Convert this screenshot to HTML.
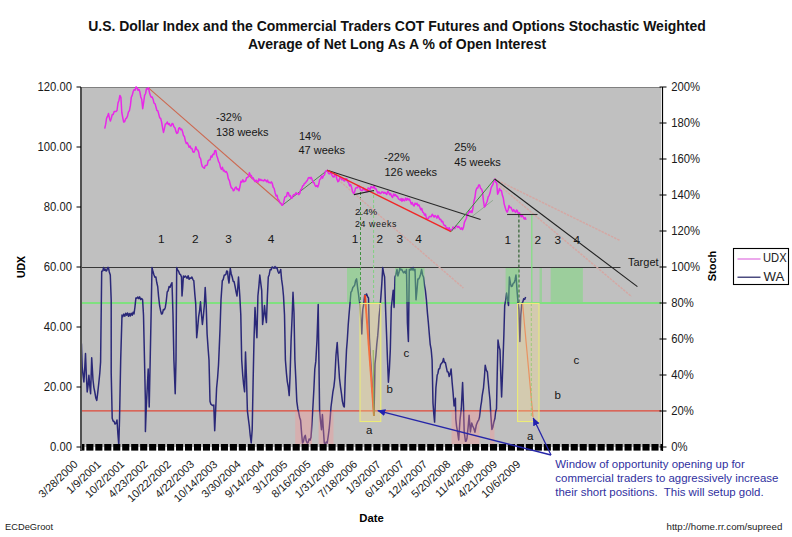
<!DOCTYPE html><html><head><meta charset="utf-8"><style>html,body{margin:0;padding:0;background:#fff;overflow:hidden}svg{display:block}text{font-family:"Liberation Sans",sans-serif}</style></head><body>
<svg width="792" height="537" viewBox="0 0 792 537">
<rect x="0" y="0" width="792" height="537" fill="#fff"/>
<text x="397" y="31" text-anchor="middle" font-size="13.97" font-weight="bold" fill="#111">U.S. Dollar Index and the Commercial Traders COT Futures and Options Stochastic Weighted</text>
<text x="397" y="49" text-anchor="middle" font-size="14" font-weight="bold" fill="#111">Average of Net Long As A % of Open Interest</text>
<rect x="81" y="87" width="580" height="360" fill="#c0c0c0"/>
<line x1="81" y1="87.5" x2="661" y2="87.5" stroke="#808080" stroke-width="1"/>
<line x1="81" y1="267.5" x2="620.5" y2="267.5" stroke="#383838" stroke-width="1"/>
<line x1="81" y1="303" x2="661" y2="303" stroke="#80e080" stroke-width="2"/>
<line x1="81" y1="410.8" x2="661" y2="410.8" stroke="#e04838" stroke-width="1.3"/>
<line x1="360.5" y1="192" x2="360.5" y2="303" stroke="#409040" stroke-width="1" stroke-dasharray="3,2"/>
<line x1="373.6" y1="190" x2="373.6" y2="303" stroke="#80d080" stroke-width="1" stroke-dasharray="3,2"/>
<line x1="518.9" y1="214.5" x2="518.9" y2="303" stroke="#306030" stroke-width="1.2" stroke-dasharray="3,2"/>
<line x1="531.8" y1="214.5" x2="531.8" y2="303" stroke="#80e080" stroke-width="1.2"/>
<line x1="148.4" y1="87.8" x2="282.7" y2="205" stroke="#cc6850" stroke-width="1.1"/>
<line x1="282.7" y1="205" x2="327.3" y2="170.3" stroke="#508050" stroke-width="1"/>
<line x1="327.3" y1="170.3" x2="463.4" y2="288" stroke="#d4a8a4" stroke-width="1.5" stroke-dasharray="2.5,1"/>
<line x1="494.7" y1="179" x2="620" y2="240.5" stroke="#d4a8a4" stroke-width="1.5" stroke-dasharray="2.5,1"/>
<line x1="494.7" y1="181.5" x2="631.5" y2="296.5" stroke="#d4a8a4" stroke-width="1.5" stroke-dasharray="2.5,1"/>
<line x1="472" y1="216.5" x2="492.9" y2="200.3" stroke="#90a890" stroke-width="1"/>
<polyline points="104.7,128.6 105.7,124.2 106.6,118.2 107.5,116.4 108.5,113.4 109.5,118.4 110.4,121.0 111.3,118.3 112.3,114.4 113.2,114.5 114.2,111.6 115.1,111.5 116.0,111.5 117.0,110.5 118.0,103.0 119.0,100.2 119.9,95.4 120.9,97.3 121.8,112.5 122.8,117.8 123.7,122.0 124.6,121.7 125.6,118.9 126.5,118.2 127.5,116.2 128.4,112.2 129.4,110.6 130.4,105.4 131.3,97.3 132.2,95.4 133.2,91.5 134.1,89.7 135.1,90.2 136.0,86.9 137.0,87.8 137.9,90.2 138.9,89.4 139.8,91.6 140.8,97.0 141.7,99.2 142.7,108.7 143.6,102.6 144.6,95.4 145.6,93.5 146.5,88.7 147.4,89.1 148.4,87.8 149.4,92.2 150.3,95.4 151.2,97.3 152.2,97.1 153.1,99.2 154.0,103.1 155.0,103.6 155.9,106.8 156.9,110.5 157.8,110.7 158.8,114.4 159.7,117.8 160.7,118.4 161.6,122.0 162.6,127.8 163.5,132.4 164.4,128.7 165.4,123.9 166.4,123.7 167.3,122.0 168.3,124.5 169.2,123.6 170.2,125.8 171.1,126.0 172.1,123.4 173.0,123.9 173.9,126.8 174.9,127.7 175.9,131.4 176.8,133.4 177.8,132.9 178.7,128.3 179.7,127.7 180.6,129.7 181.6,129.1 182.5,131.5 183.5,135.7 184.4,136.4 185.4,141.0 186.3,143.6 187.3,142.7 188.2,144.8 189.1,147.3 190.1,146.1 191.1,148.6 192.0,148.6 192.9,151.8 193.9,152.3 194.9,150.2 195.8,146.7 196.8,149.6 197.7,149.9 198.7,152.3 199.6,157.3 200.6,158.6 201.5,163.7 202.4,166.7 203.4,167.5 204.4,168.3 205.3,165.4 206.3,165.6 207.2,165.0 208.2,160.7 209.1,160.0 210.1,159.7 211.0,156.1 211.9,157.1 212.9,154.2 213.9,154.5 214.8,150.7 215.8,150.5 216.7,155.5 217.6,158.0 218.6,161.7 219.5,163.1 220.5,167.5 221.4,169.4 222.4,167.3 223.4,171.0 224.3,170.3 225.3,172.2 226.3,171.5 227.3,173.5 228.3,178.6 229.4,180.7 230.4,185.1 231.4,188.0 232.3,188.2 233.3,190.8 234.2,190.1 235.2,187.7 236.1,187.0 237.1,189.6 238.0,188.9 239.0,190.8 239.9,186.8 240.9,181.3 241.8,182.2 242.8,179.8 243.8,181.9 244.7,181.3 245.6,181.0 246.6,177.7 247.5,177.5 248.4,176.6 249.4,172.7 250.4,175.5 251.3,175.6 252.3,178.6 253.2,177.9 254.2,180.3 255.1,181.6 256.1,180.1 257.0,181.3 257.9,182.3 258.9,178.8 259.9,180.5 260.8,179.4 261.8,180.5 262.7,180.3 263.7,181.0 264.6,179.6 265.6,180.3 266.6,181.8 267.5,180.1 268.4,182.5 269.4,182.2 270.3,183.0 271.3,181.9 272.2,183.2 273.2,187.3 274.1,188.4 275.1,192.7 276.1,196.1 277.0,195.2 277.9,199.4 278.9,200.2 279.9,202.8 280.8,203.1 281.8,205.3 282.7,205.0 283.6,202.7 284.6,197.8 285.5,196.5 286.5,196.6 287.4,192.5 288.4,192.7 289.3,196.0 290.3,195.6 291.2,198.4 292.1,198.1 293.1,195.3 294.0,194.6 295.0,194.8 296.0,192.7 296.9,193.9 297.9,193.4 298.8,194.6 299.8,193.2 300.7,189.6 301.7,189.0 302.6,186.0 303.6,185.4 304.5,183.2 305.4,183.1 306.4,181.3 307.3,180.6 308.3,177.9 309.2,177.5 310.2,178.6 311.1,177.3 312.1,179.4 313.0,182.5 314.0,182.6 314.9,185.1 315.9,186.5 316.8,185.5 317.8,187.0 318.8,184.1 319.7,179.4 320.6,179.1 321.6,176.1 322.6,178.1 323.5,175.6 324.4,175.0 325.4,171.4 326.3,170.8 327.3,170.3 328.2,172.7 329.1,173.9 330.1,173.5 331.0,172.0 332.0,175.3 333.0,176.8 334.0,177.0 335.0,174.2 336.0,175.0 336.9,179.0 337.9,181.7 338.9,180.9 339.8,177.6 340.8,177.8 341.8,179.8 342.7,179.0 343.7,180.5 344.7,181.0 345.7,178.8 346.7,178.7 347.6,181.8 348.6,182.7 349.6,185.9 350.6,184.5 351.6,187.5 352.6,191.7 353.5,193.4 354.5,192.2 355.4,188.6 356.4,187.5 357.4,187.9 358.4,185.6 359.4,186.6 360.4,189.6 361.3,190.5 362.4,190.6 363.5,188.0 364.4,190.0 365.3,189.5 366.2,191.4 367.2,191.8 368.1,187.9 369.1,188.5 370.1,189.6 371.1,186.5 372.1,187.5 373.1,187.9 374.0,185.6 375.0,188.8 376.0,188.7 377.0,191.4 378.0,193.1 378.9,191.9 379.9,193.4 380.9,193.4 381.8,192.0 382.8,192.0 383.8,193.3 384.8,192.2 385.8,193.4 386.8,194.4 387.7,191.2 388.7,192.5 389.7,194.7 390.6,193.5 391.6,196.3 392.6,197.4 393.6,193.9 394.5,195.8 395.5,194.5 396.5,196.4 397.4,196.2 398.4,198.8 399.4,199.3 400.3,200.2 401.1,198.5 402.0,201.4 402.8,198.7 403.7,200.3 404.6,200.8 405.6,198.1 406.6,200.3 407.5,198.4 408.4,199.9 409.4,199.1 410.3,201.3 411.3,204.1 412.2,202.5 413.2,205.1 414.1,205.9 415.1,203.1 416.1,204.4 417.0,203.2 417.9,205.8 418.9,204.9 419.8,207.0 420.8,209.8 421.7,208.3 422.7,212.2 423.6,212.7 424.6,215.1 425.5,214.0 426.4,218.3 427.4,218.4 428.4,218.4 429.3,216.5 430.3,216.5 431.2,216.8 432.2,214.3 433.1,215.5 434.1,217.2 435.0,215.5 436.0,216.5 436.9,218.2 437.9,215.5 438.8,217.4 439.8,219.6 440.7,219.3 441.6,221.7 442.6,221.3 443.5,224.0 444.4,225.6 445.4,225.4 446.4,228.4 447.3,227.8 448.2,229.5 449.2,227.7 450.2,230.8 451.1,229.7 452.1,230.0 453.0,227.0 454.0,227.8 454.9,228.6 455.9,225.9 456.8,226.0 457.8,227.4 458.7,226.4 459.7,227.8 460.6,229.2 461.6,227.9 462.5,229.7 463.5,227.3 464.4,222.4 465.4,220.2 466.3,218.5 467.3,214.0 468.2,214.0 469.2,210.8 470.1,212.4 471.1,210.9 472.0,212.7 472.9,208.5 473.9,201.3 474.9,197.8 475.8,190.9 476.8,188.0 477.7,188.1 478.7,185.0 479.6,185.1 480.6,188.4 481.5,189.1 482.5,191.8 483.4,200.4 484.4,207.0 485.4,205.8 486.3,203.2 487.2,201.2 488.2,196.8 489.1,195.6 490.0,193.1 491.0,188.3 491.9,186.1 492.9,184.5 493.9,180.4 494.7,179.0 495.7,182.1 496.7,183.0 497.6,194.2 498.6,192.2 499.5,188.5 500.4,190.5 501.4,190.4 502.4,195.3 503.3,198.0 504.2,204.1 505.2,207.5 506.1,210.4 507.1,212.2 508.1,210.0 509.0,205.6 509.9,207.6 510.9,207.3 511.8,209.4 512.8,211.4 513.7,209.6 514.7,211.3 515.6,212.4 516.6,210.0 517.5,211.3 518.5,214.0 519.4,212.8 520.4,215.0 521.3,216.8 522.3,215.3 523.2,217.0 524.2,219.0 525.1,217.6 526.1,219.8" fill="none" stroke="#e828e8" stroke-width="1.5" stroke-linejoin="round"/>
<line x1="327.3" y1="170.3" x2="480.6" y2="219.5" stroke="#282828" stroke-width="1.1"/>
<line x1="327.3" y1="170.3" x2="451.1" y2="231.6" stroke="#f02828" stroke-width="1.5"/>
<line x1="353.9" y1="194.6" x2="374" y2="190.5" stroke="#202020" stroke-width="1.2"/>
<line x1="451.1" y1="231.6" x2="494.7" y2="179" stroke="#3c8c3c" stroke-width="1"/>
<line x1="494.7" y1="179" x2="637.4" y2="286.6" stroke="#202020" stroke-width="1.1"/>
<line x1="507.1" y1="214.5" x2="537.5" y2="214.5" stroke="#303030" stroke-width="1.1"/>
<polyline points="81.4,343.5 82.2,367.0 83.1,375.6 83.9,382.0 84.7,369.0 85.5,353.5 86.3,373.9 87.2,392.0 88.1,385.4 88.9,375.3 89.8,385.9 90.6,393.7 91.7,357.7 93.0,380.0 93.9,387.6 94.8,392.0 95.8,397.9 96.8,400.4 97.8,392.1 98.9,382.0 99.8,373.2 100.6,361.9 101.7,271.3 102.7,271.1 103.6,267.5 104.4,270.3 105.2,269.1 106.0,271.0 106.8,270.5 107.6,267.6 108.4,267.5 109.3,271.9 110.3,275.0 111.2,300.0 111.2,372.8 112.2,418.3 113.1,421.0 114.1,421.5 115.0,424.0 116.0,423.4 117.0,420.0 117.9,434.0 118.8,445.0 119.5,420.0 120.7,359.5 122.0,315.0 122.9,316.6 123.8,314.1 124.8,316.2 125.7,313.3 126.6,315.3 127.5,312.9 128.5,316.2 129.4,313.6 130.3,316.0 131.2,313.2 132.2,315.3 133.1,312.3 134.0,314.0 134.9,307.5 135.9,297.9 136.9,298.2 137.8,297.0 138.8,298.6 139.7,296.9 140.7,299.6 141.6,298.5 142.6,299.8 143.5,315.0 144.5,360.0 145.4,401.3 145.4,431.6 146.3,407.0 147.2,388.9 148.2,369.0 149.2,407.0 150.2,359.5 151.1,314.9 152.0,267.5 153.0,271.8 154.0,275.0 154.9,277.2 155.9,277.0 156.8,282.8 157.7,286.5 158.6,296.6 159.6,305.5 160.6,310.7 161.5,314.0 162.4,313.7 163.4,309.5 164.4,309.7 165.3,307.4 166.2,301.5 167.2,292.0 168.1,290.8 169.1,286.5 170.1,287.3 171.0,284.6 172.0,282.7 173.0,315.0 173.9,360.0 175.2,393.7 176.0,360.0 176.7,267.5 177.6,270.1 178.6,271.3 179.6,274.1 180.5,274.5 181.5,277.0 182.0,296.0 182.7,287.5 183.4,276.0 184.3,277.2 185.3,276.0 186.2,277.0 187.1,278.3 188.1,275.8 189.1,279.3 190.0,278.0 190.9,278.4 191.9,277.0 192.9,279.6 193.8,280.8 194.8,293.9 195.7,303.6 196.7,337.7 197.6,328.6 198.6,316.9 199.6,310.7 200.5,301.7 201.4,313.8 202.4,324.5 203.4,315.6 204.3,305.5 205.2,287.4 206.2,305.5 207.1,334.0 208.1,348.4 209.0,360.0 210.0,401.3 210.9,404.2 211.9,405.0 212.9,405.6 213.8,405.0 214.7,430.7 215.6,411.1 216.6,388.0 217.6,377.8 218.5,365.0 219.2,349.1 220.0,330.0 221.0,300.0 222.3,280.8 223.2,279.5 224.2,275.3 225.1,275.0 225.9,274.4 226.7,270.9 227.5,271.3 228.2,278.3 229.0,283.0 230.3,268.4 231.2,273.7 232.2,277.0 233.2,281.4 234.1,281.6 235.1,286.5 236.1,292.1 237.0,296.0 237.8,287.2 238.5,277.0 239.8,296.0 240.8,315.0 241.7,360.0 242.7,374.7 243.6,384.5 244.6,391.8 245.5,351.9 246.5,378.5 247.4,410.8 248.4,419.2 249.3,426.0 250.2,435.2 251.2,443.0 252.2,429.7 253.1,382.3 254.0,340.0 255.0,307.4 255.9,323.3 256.9,337.7 257.9,296.0 258.9,286.1 259.8,275.0 260.8,283.4 261.7,290.3 262.6,324.5 263.6,315.9 264.5,305.5 265.4,315.0 266.4,322.6 267.4,296.0 268.3,277.0 269.2,274.7 270.2,269.4 271.2,269.7 272.1,267.0 273.1,267.5 274.1,268.3 275.0,266.5 275.9,268.1 276.9,267.5 277.9,271.2 278.8,273.2 279.8,271.9 280.7,269.4 281.6,279.4 282.6,286.5 283.5,296.0 284.5,315.0 285.4,360.0 286.4,372.8 287.3,381.6 288.3,387.2 289.2,395.6 290.1,374.7 291.1,340.0 292.1,317.2 293.0,292.2 294.0,313.0 294.9,360.0 295.8,378.5 296.8,401.3 297.8,408.7 298.7,412.7 299.6,417.2 300.6,420.3 301.6,433.2 302.5,443.0 303.4,441.6 304.4,436.8 305.3,435.4 306.2,440.8 307.2,443.0 308.1,442.6 309.1,439.0 310.1,440.1 311.0,437.3 311.9,423.9 312.9,407.0 313.9,389.0 314.8,369.0 315.8,361.4 317.0,340.0 318.2,304.5 318.9,359.2 319.6,410.8 320.6,421.7 321.5,429.7 322.4,414.5 323.4,430.1 324.3,443.0 325.3,444.0 326.2,442.0 327.2,443.0 328.1,437.0 329.1,429.7 330.1,419.1 331.0,407.0 331.9,400.0 332.9,391.8 333.9,386.6 334.8,378.5 336.0,355.0 337.2,342.5 337.9,354.6 338.6,365.0 339.5,378.5 340.5,386.8 341.4,393.1 342.4,401.3 343.4,405.7 344.3,407.0 345.2,378.5 346.5,350.0 347.3,340.0 348.2,325.3 349.0,315.0 349.9,304.5 350.9,292.2 351.8,291.1 352.8,287.5 353.7,286.5 354.7,285.1 355.6,280.7 356.6,278.9 357.6,287.6 358.5,294.0 359.2,300.1 360.0,304.5 360.9,321.0 361.8,334.0 362.8,309.3 363.8,303.9 364.7,295.0 365.6,295.7 366.6,294.0 367.6,296.8 368.5,298.0 369.4,337.7 370.3,355.1 371.2,368.1 372.2,385.7 373.1,399.8 374.0,416.0" fill="none" stroke="#2a2878" stroke-width="1.5" stroke-linejoin="round"/>
<polyline points="374.0,416.0 375.0,363.8 375.9,355.5 376.8,344.1 377.7,335.9 378.4,327.3 379.1,316.3 380.0,307.9 380.8,297.9 381.8,283.9 382.7,267.5 383.6,272.8 384.6,277.0 385.6,309.3 386.6,335.5 387.5,360.0 388.4,382.3 389.4,369.0 390.3,350.0 391.3,307.4 392.2,299.5 393.2,290.3 394.1,307.4 395.0,277.0 396.0,274.2 397.0,269.4 397.9,276.0 398.9,272.8 399.8,268.4 400.8,269.9 401.7,269.4 402.7,271.3 403.6,272.8 404.6,271.3 405.5,273.2 406.5,269.4 407.4,322.6 408.4,341.5 409.3,269.4 410.2,270.1 411.2,268.4 412.1,270.1 413.1,267.5 414.1,270.6 415.0,269.4 416.0,299.8 416.9,291.0 417.9,278.9 418.8,279.0 419.7,277.0 420.6,274.2 421.6,269.4 422.6,275.0 423.5,277.0 424.5,285.3 425.4,290.7 426.4,299.8 427.4,312.6 428.3,322.0 429.3,334.0 430.2,344.3 431.2,349.7 432.1,360.0 433.0,403.2 433.8,414.0 434.6,422.1 435.9,387.8 437.2,375.0 437.9,373.5 438.7,369.0 439.7,368.7 440.6,364.5 441.6,363.3 442.6,362.1 443.5,358.5 444.4,362.5 445.4,362.6 446.3,367.1 447.3,371.8 448.2,371.9 449.2,376.6 450.1,374.1 451.1,369.0 452.1,382.1 453.0,391.8 454.1,406.0 455.4,398.3 455.8,419.0 456.6,426.3 457.4,430.8 458.7,440.0 460.0,420.0 461.3,408.7 462.6,382.6 463.5,406.0 464.2,432.0 465.5,441.3 466.2,441.1 467.0,438.0 468.1,427.4 469.1,415.2 470.4,432.0 471.7,423.0 472.7,426.1 473.7,428.0 475.0,432.2 476.3,425.0 477.6,421.7 478.6,420.1 479.5,417.0 480.8,406.0 481.5,401.8 482.2,395.6 483.5,387.8 484.4,377.2 485.2,365.2 486.3,370.2 487.4,372.0 488.1,380.0 489.1,391.2 490.0,400.0 490.9,416.1 491.9,429.5 492.9,426.9 493.9,421.7 494.8,418.8 495.6,411.9 496.5,408.7 497.2,374.9 498.0,340.0 499.0,346.5 500.0,350.0 500.8,375.0 501.6,397.0 502.3,379.7 503.0,360.0 503.9,334.0 504.7,305.5 505.6,300.7 506.6,293.1 507.6,299.9 508.5,305.5 509.4,277.0 510.4,283.2 511.3,286.5 512.3,286.1 513.2,283.3 514.2,282.7 515.1,279.7 516.0,275.0 517.0,290.3 518.0,302.6 518.9,309.3 519.9,341.5 520.8,315.0 521.8,303.6 522.8,302.0 523.7,298.8 524.7,299.4 525.6,297.0" fill="none" stroke="#2a2878" stroke-width="1.5" stroke-linejoin="round"/>
<polyline points="365.0,295.0 374.0,416.0" fill="none" stroke="#f04020" stroke-width="2"/>
<polyline points="373.2,350.0 374.0,416.0" fill="none" stroke="#60a040" stroke-width="1"/>
<polyline points="522.5,303.0 533.0,417.0" fill="none" stroke="#e07050" stroke-width="1.2"/>
<line x1="531.3" y1="303" x2="531.3" y2="417" stroke="#70c070" stroke-width="1" stroke-dasharray="3,2"/>
<rect x="347" y="268" width="13.4" height="34" fill="#70e070" fill-opacity="0.45"/>
<rect x="395" y="268" width="29.5" height="34" fill="#70e070" fill-opacity="0.45"/>
<rect x="505.6" y="268" width="13.3" height="34" fill="#70e070" fill-opacity="0.45"/>
<rect x="539.5" y="268" width="2.5" height="34" fill="#70e070" fill-opacity="0.45"/>
<rect x="550.7" y="268" width="32.2" height="34" fill="#70e070" fill-opacity="0.45"/>
<rect x="295.2" y="411.5" width="16.8" height="32.5" fill="#ff9090" fill-opacity="0.35"/>
<rect x="318.6" y="411.5" width="14.9" height="32.5" fill="#ff9090" fill-opacity="0.35"/>
<rect x="451.5" y="411.5" width="28.0" height="32.5" fill="#ff9090" fill-opacity="0.35"/>
<rect x="490" y="411.5" width="4.5" height="32.5" fill="#ff9090" fill-opacity="0.35"/>
<rect x="360" y="303.5" width="20.8" height="118" fill="#ffe088" fill-opacity="0.3" stroke="#ecec78" stroke-width="1.1"/>
<rect x="517.6" y="303.5" width="21.4" height="118" fill="#ffe088" fill-opacity="0.3" stroke="#ecec78" stroke-width="1.1"/>
<rect x="80.40" y="444" width="4.05" height="6.6" fill="#000"/><rect x="86.32" y="444" width="7.10" height="6.6" fill="#000"/><rect x="95.29" y="444" width="7.10" height="6.6" fill="#000"/><rect x="104.26" y="444" width="7.10" height="6.6" fill="#000"/><rect x="113.23" y="444" width="7.10" height="6.6" fill="#000"/><rect x="122.20" y="444" width="7.10" height="6.6" fill="#000"/><rect x="131.17" y="444" width="7.10" height="6.6" fill="#000"/><rect x="140.14" y="444" width="7.10" height="6.6" fill="#000"/><rect x="149.11" y="444" width="7.10" height="6.6" fill="#000"/><rect x="158.08" y="444" width="7.10" height="6.6" fill="#000"/><rect x="167.05" y="444" width="7.10" height="6.6" fill="#000"/><rect x="176.02" y="444" width="7.10" height="6.6" fill="#000"/><rect x="184.99" y="444" width="7.10" height="6.6" fill="#000"/><rect x="193.96" y="444" width="7.10" height="6.6" fill="#000"/><rect x="202.93" y="444" width="7.10" height="6.6" fill="#000"/><rect x="211.90" y="444" width="7.10" height="6.6" fill="#000"/><rect x="220.87" y="444" width="7.10" height="6.6" fill="#000"/><rect x="229.84" y="444" width="7.10" height="6.6" fill="#000"/><rect x="238.81" y="444" width="7.10" height="6.6" fill="#000"/><rect x="247.78" y="444" width="7.10" height="6.6" fill="#000"/><rect x="256.75" y="444" width="7.10" height="6.6" fill="#000"/><rect x="265.72" y="444" width="7.10" height="6.6" fill="#000"/><rect x="274.69" y="444" width="7.10" height="6.6" fill="#000"/><rect x="283.66" y="444" width="7.10" height="6.6" fill="#000"/><rect x="292.63" y="444" width="7.10" height="6.6" fill="#000"/><rect x="301.60" y="444" width="7.10" height="6.6" fill="#000"/><rect x="310.57" y="444" width="7.10" height="6.6" fill="#000"/><rect x="319.54" y="444" width="7.10" height="6.6" fill="#000"/><rect x="328.51" y="444" width="7.10" height="6.6" fill="#000"/><rect x="337.48" y="444" width="7.10" height="6.6" fill="#000"/><rect x="346.45" y="444" width="7.10" height="6.6" fill="#000"/><rect x="355.42" y="444" width="7.10" height="6.6" fill="#000"/><rect x="364.39" y="444" width="7.10" height="6.6" fill="#000"/><rect x="373.36" y="444" width="7.10" height="6.6" fill="#000"/><rect x="382.33" y="444" width="7.10" height="6.6" fill="#000"/><rect x="391.30" y="444" width="7.10" height="6.6" fill="#000"/><rect x="400.27" y="444" width="7.10" height="6.6" fill="#000"/><rect x="409.24" y="444" width="7.10" height="6.6" fill="#000"/><rect x="418.21" y="444" width="7.10" height="6.6" fill="#000"/><rect x="427.18" y="444" width="7.10" height="6.6" fill="#000"/><rect x="436.15" y="444" width="7.10" height="6.6" fill="#000"/><rect x="445.12" y="444" width="7.10" height="6.6" fill="#000"/><rect x="454.09" y="444" width="7.10" height="6.6" fill="#000"/><rect x="463.06" y="444" width="7.10" height="6.6" fill="#000"/><rect x="472.03" y="444" width="7.10" height="6.6" fill="#000"/><rect x="481.00" y="444" width="7.10" height="6.6" fill="#000"/><rect x="489.97" y="444" width="7.10" height="6.6" fill="#000"/><rect x="498.94" y="444" width="7.10" height="6.6" fill="#000"/><rect x="507.91" y="444" width="7.10" height="6.6" fill="#000"/><rect x="516.88" y="444" width="7.10" height="6.6" fill="#000"/><rect x="525.85" y="444" width="7.10" height="6.6" fill="#000"/><rect x="534.82" y="444" width="7.10" height="6.6" fill="#000"/><rect x="543.79" y="444" width="7.10" height="6.6" fill="#000"/><rect x="552.76" y="444" width="7.10" height="6.6" fill="#000"/><rect x="561.73" y="444" width="7.10" height="6.6" fill="#000"/><rect x="570.70" y="444" width="7.10" height="6.6" fill="#000"/><rect x="579.67" y="444" width="7.10" height="6.6" fill="#000"/><rect x="588.64" y="444" width="7.10" height="6.6" fill="#000"/><rect x="597.61" y="444" width="7.10" height="6.6" fill="#000"/><rect x="606.58" y="444" width="7.10" height="6.6" fill="#000"/><rect x="615.55" y="444" width="7.10" height="6.6" fill="#000"/><rect x="624.52" y="444" width="7.10" height="6.6" fill="#000"/><rect x="633.49" y="444" width="7.10" height="6.6" fill="#000"/><rect x="642.46" y="444" width="7.10" height="6.6" fill="#000"/><rect x="651.43" y="444" width="7.10" height="6.6" fill="#000"/><rect x="660.40" y="444" width="2.40" height="6.6" fill="#000"/>
<line x1="81" y1="87" x2="81" y2="451" stroke="#505050" stroke-width="2"/>
<line x1="662.5" y1="87" x2="662.5" y2="451" stroke="#000" stroke-width="1.2"/>
<line x1="76.5" y1="87" x2="81" y2="87" stroke="#000" stroke-width="1"/>
<text transform="translate(72,91.2) scale(1,1.1)" text-anchor="end" font-size="11.3" fill="#1a1a1a">120.00</text>
<line x1="76.5" y1="147" x2="81" y2="147" stroke="#000" stroke-width="1"/>
<text transform="translate(72,151.2) scale(1,1.1)" text-anchor="end" font-size="11.3" fill="#1a1a1a">100.00</text>
<line x1="76.5" y1="207" x2="81" y2="207" stroke="#000" stroke-width="1"/>
<text transform="translate(72,211.2) scale(1,1.1)" text-anchor="end" font-size="11.3" fill="#1a1a1a">80.00</text>
<line x1="76.5" y1="267" x2="81" y2="267" stroke="#000" stroke-width="1"/>
<text transform="translate(72,271.2) scale(1,1.1)" text-anchor="end" font-size="11.3" fill="#1a1a1a">60.00</text>
<line x1="76.5" y1="327" x2="81" y2="327" stroke="#000" stroke-width="1"/>
<text transform="translate(72,331.2) scale(1,1.1)" text-anchor="end" font-size="11.3" fill="#1a1a1a">40.00</text>
<line x1="76.5" y1="387" x2="81" y2="387" stroke="#000" stroke-width="1"/>
<text transform="translate(72,391.2) scale(1,1.1)" text-anchor="end" font-size="11.3" fill="#1a1a1a">20.00</text>
<line x1="76.5" y1="447" x2="81" y2="447" stroke="#000" stroke-width="1"/>
<text transform="translate(72,451.2) scale(1,1.1)" text-anchor="end" font-size="11.3" fill="#1a1a1a">0.00</text>
<line x1="659.5" y1="87" x2="666.5" y2="87" stroke="#000" stroke-width="1"/>
<text transform="translate(671.3,91.2) scale(1,1.1)" font-size="11.3" fill="#1a1a1a">200%</text>
<line x1="659.5" y1="123" x2="666.5" y2="123" stroke="#000" stroke-width="1"/>
<text transform="translate(671.3,127.2) scale(1,1.1)" font-size="11.3" fill="#1a1a1a">180%</text>
<line x1="659.5" y1="159" x2="666.5" y2="159" stroke="#000" stroke-width="1"/>
<text transform="translate(671.3,163.2) scale(1,1.1)" font-size="11.3" fill="#1a1a1a">160%</text>
<line x1="659.5" y1="195" x2="666.5" y2="195" stroke="#000" stroke-width="1"/>
<text transform="translate(671.3,199.2) scale(1,1.1)" font-size="11.3" fill="#1a1a1a">140%</text>
<line x1="659.5" y1="231" x2="666.5" y2="231" stroke="#000" stroke-width="1"/>
<text transform="translate(671.3,235.2) scale(1,1.1)" font-size="11.3" fill="#1a1a1a">120%</text>
<line x1="659.5" y1="267" x2="666.5" y2="267" stroke="#000" stroke-width="1"/>
<text transform="translate(671.3,271.2) scale(1,1.1)" font-size="11.3" fill="#1a1a1a">100%</text>
<line x1="659.5" y1="303" x2="666.5" y2="303" stroke="#000" stroke-width="1"/>
<text transform="translate(671.3,307.2) scale(1,1.1)" font-size="11.3" fill="#1a1a1a">80%</text>
<line x1="659.5" y1="339" x2="666.5" y2="339" stroke="#000" stroke-width="1"/>
<text transform="translate(671.3,343.2) scale(1,1.1)" font-size="11.3" fill="#1a1a1a">60%</text>
<line x1="659.5" y1="375" x2="666.5" y2="375" stroke="#000" stroke-width="1"/>
<text transform="translate(671.3,379.2) scale(1,1.1)" font-size="11.3" fill="#1a1a1a">40%</text>
<line x1="659.5" y1="411" x2="666.5" y2="411" stroke="#000" stroke-width="1"/>
<text transform="translate(671.3,415.2) scale(1,1.1)" font-size="11.3" fill="#1a1a1a">20%</text>
<line x1="659.5" y1="447" x2="666.5" y2="447" stroke="#000" stroke-width="1"/>
<text transform="translate(671.3,451.2) scale(1,1.1)" font-size="11.3" fill="#1a1a1a">0%</text>
<text transform="translate(24.8,267) rotate(-90)" text-anchor="middle" font-size="10.5" font-weight="bold" fill="#000">UDX</text>
<text transform="translate(716,266) rotate(-90)" text-anchor="middle" font-size="11" font-weight="bold" fill="#000">Stoch</text>
<text x="371.5" y="522" text-anchor="middle" font-size="11.3" font-weight="bold" fill="#000">Date</text>
<text transform="translate(78.5,465.2) rotate(-43)" text-anchor="end" font-size="11" fill="#222">3/28/2000</text>
<text transform="translate(101.8,465.2) rotate(-43)" text-anchor="end" font-size="11" fill="#222">1/9/2001</text>
<text transform="translate(125.1,465.2) rotate(-43)" text-anchor="end" font-size="11" fill="#222">10/2/2001</text>
<text transform="translate(148.4,465.2) rotate(-43)" text-anchor="end" font-size="11" fill="#222">4/23/2002</text>
<text transform="translate(171.7,465.2) rotate(-43)" text-anchor="end" font-size="11" fill="#222">10/22/2002</text>
<text transform="translate(195.0,465.2) rotate(-43)" text-anchor="end" font-size="11" fill="#222">4/22/2003</text>
<text transform="translate(218.3,465.2) rotate(-43)" text-anchor="end" font-size="11" fill="#222">10/14/2003</text>
<text transform="translate(241.6,465.2) rotate(-43)" text-anchor="end" font-size="11" fill="#222">3/30/2004</text>
<text transform="translate(264.9,465.2) rotate(-43)" text-anchor="end" font-size="11" fill="#222">9/14/2004</text>
<text transform="translate(288.2,465.2) rotate(-43)" text-anchor="end" font-size="11" fill="#222">3/1/2005</text>
<text transform="translate(311.5,465.2) rotate(-43)" text-anchor="end" font-size="11" fill="#222">8/16/2005</text>
<text transform="translate(334.8,465.2) rotate(-43)" text-anchor="end" font-size="11" fill="#222">1/31/2006</text>
<text transform="translate(358.1,465.2) rotate(-43)" text-anchor="end" font-size="11" fill="#222">7/18/2006</text>
<text transform="translate(381.4,465.2) rotate(-43)" text-anchor="end" font-size="11" fill="#222">1/3/2007</text>
<text transform="translate(404.7,465.2) rotate(-43)" text-anchor="end" font-size="11" fill="#222">6/19/2007</text>
<text transform="translate(428.0,465.2) rotate(-43)" text-anchor="end" font-size="11" fill="#222">12/4/2007</text>
<text transform="translate(451.3,465.2) rotate(-43)" text-anchor="end" font-size="11" fill="#222">5/20/2008</text>
<text transform="translate(474.6,465.2) rotate(-43)" text-anchor="end" font-size="11" fill="#222">11/4/2008</text>
<text transform="translate(497.9,465.2) rotate(-43)" text-anchor="end" font-size="11" fill="#222">4/21/2009</text>
<text transform="translate(521.2,465.2) rotate(-43)" text-anchor="end" font-size="11" fill="#222">10/6/2009</text>
<text x="216" y="121" font-size="11" fill="#161616">-32%</text>
<text x="216" y="136" font-size="11" fill="#161616">138 weeks</text>
<text x="299" y="139.5" font-size="11" fill="#161616">14%</text>
<text x="298.5" y="154" font-size="11" fill="#161616">47 weeks</text>
<text x="384" y="160.5" font-size="11" fill="#161616">-22%</text>
<text x="384.5" y="175.8" font-size="11" fill="#161616">126 weeks</text>
<text x="454.3" y="151" font-size="11" fill="#161616">25%</text>
<text x="454.3" y="165.5" font-size="11" fill="#161616">45 weeks</text>
<text x="355" y="214.5" font-size="9.8" fill="#161616">2.4%</text>
<text x="355" y="227" font-size="8.8" textLength="41.5" lengthAdjust="spacing" fill="#161616">24 weeks</text>
<text x="158" y="242.7" font-size="11.8" fill="#161616">1</text>
<text x="192" y="242.7" font-size="11.8" fill="#161616">2</text>
<text x="225.2" y="242.7" font-size="11.8" fill="#161616">3</text>
<text x="267.8" y="242.7" font-size="11.8" fill="#161616">4</text>
<text x="351.8" y="242.8" font-size="11.8" fill="#161616">1</text>
<text x="376.4" y="242.8" font-size="11.8" fill="#161616">2</text>
<text x="396.4" y="242.8" font-size="11.8" fill="#161616">3</text>
<text x="415.3" y="242.8" font-size="11.8" fill="#161616">4</text>
<text x="504.5" y="244" font-size="11.8" fill="#161616">1</text>
<text x="534.5" y="244" font-size="11.8" fill="#161616">2</text>
<text x="554.5" y="244" font-size="11.8" fill="#161616">3</text>
<text x="573.5" y="244" font-size="11.8" fill="#161616">4</text>
<text x="628" y="265.5" font-size="11" fill="#161616">Target</text>
<text x="366" y="433.5" font-size="11.5" fill="#161616">a</text>
<text x="386.5" y="393" font-size="11.5" fill="#161616">b</text>
<text x="403.5" y="356.5" font-size="11.5" fill="#161616">c</text>
<text x="527" y="440" font-size="11.5" fill="#161616">a</text>
<text x="554.5" y="399" font-size="11.5" fill="#161616">b</text>
<text x="573.5" y="364" font-size="11.5" fill="#161616">c</text>
<defs><marker id="ah" markerWidth="8" markerHeight="7" refX="7.5" refY="3.5" orient="auto" markerUnits="userSpaceOnUse"><path d="M0,0 L8,3.5 L0,7 z" fill="#2222b0"/></marker></defs>
<line x1="551" y1="455" x2="377.8" y2="410.7" stroke="#2626a8" stroke-width="1.3" marker-end="url(#ah)"/>
<line x1="551" y1="455" x2="533.2" y2="418" stroke="#2626a8" stroke-width="1.3" marker-end="url(#ah)"/>
<rect x="733.5" y="248.5" width="55" height="36" fill="#fff" stroke="#000" stroke-width="1.1"/>
<line x1="737.5" y1="259" x2="760.5" y2="259" stroke="#e070e0" stroke-width="1.2"/>
<line x1="737.5" y1="277.2" x2="760.5" y2="277.2" stroke="#202060" stroke-width="1.2"/>
<text x="763" y="261.9" font-size="12" textLength="23.6" lengthAdjust="spacingAndGlyphs" fill="#222">UDX</text>
<text x="763.6" y="280.9" font-size="12" textLength="20.8" lengthAdjust="spacingAndGlyphs" fill="#222">WA</text>
<text x="555.3" y="467.5" font-size="11.45" fill="#3030a0">Window of opportunity opening up for</text>
<text x="555.3" y="481.7" font-size="11.45" fill="#3030a0">commercial traders to aggressively increase</text>
<text x="555.3" y="495.9" font-size="11.45" fill="#3030a0">their short positions.&#160; This will setup gold.</text>
<text x="5" y="530" font-size="9.3" fill="#222">ECDeGroot</text>
<text x="782.3" y="529.5" text-anchor="end" font-size="9.7" fill="#222">http://home.rr.com/supreed</text>
</svg></body></html>
